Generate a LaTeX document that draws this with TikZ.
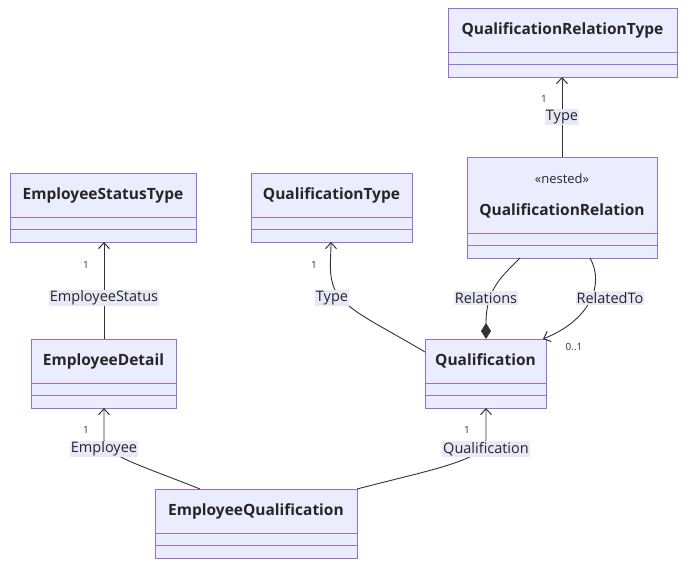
\documentclass[tikz,border=0pt]{standalone}
\usepackage{fontspec}
\setmainfont{Open Sans}
\usetikzlibrary{arrows.meta}
\definecolor{boxfill}{HTML}{ECECFF}
\definecolor{boxline}{HTML}{9370DB}
\definecolor{lblbg}{HTML}{E8E8F8}
\definecolor{edge}{HTML}{333333}
\tikzset{
  cls/.style={draw=boxline,fill=boxfill,line width=0.8pt},
  sep/.style={draw=boxline,line width=0.8pt},
  ttl/.style={font=\fontsize{15.5}{18}\selectfont\bfseries,text=black!85},
  lbl/.style={fill=lblbg,font=\fontsize{14.5}{17}\selectfont,text=black!85,inner sep=1pt},
  mult/.style={font=\fontsize{10}{12}\selectfont,text=black!80},
  conn/.style={draw=edge,line width=0.9pt},
  barb/.style={-{Straight Barb[length=6pt,width=11pt,line width=1pt]}},
}
\newcommand{\umlbox}[6]{% name, x1,y1,x2,y2, title y
  \fill[cls] (#2,#3) rectangle (#4,#5);
  \draw[sep] (#2,#5-25) -- (#4,#5-25);
  \draw[sep] (#2,#5-12.5) -- (#4,#5-12.5);
  \coordinate (#1-nw) at (#2,#3);
}
\begin{document}
\begin{tikzpicture}[x=1pt,y=-1pt]
\useasboundingbox[fill=white] (0,0) rectangle (686,568);
\umlbox{qrt}{448}{8}{677}{77}{29}
\node[ttl] (qrtT) at (562.5,30) {QualificationRelationType};
\umlbox{est}{10}{173}{196}{242}{195}
\node[ttl] (estT) at (103,195) {EmployeeStatusType};
\umlbox{qt}{251}{173}{412}{242}{195}
\node[ttl] (qtT) at (331.5,195) {QualificationType};
\umlbox{qr}{467}{157}{657}{258}{210}
\node[font=\fontsize{13}{15}\selectfont,text=black!85] (qrS) at (562,179) {«nested»};
\node[ttl] (qrT) at (562,211) {QualificationRelation};
\umlbox{ed}{31}{339}{176}{408}{361}
\node[ttl] (edT) at (103.5,361) {EmployeeDetail};
\umlbox{q}{425}{339}{546}{408}{361}
\node[ttl] (qT) at (485.5,361) {Qualification};
\umlbox{eq}{155}{489}{357}{558}{511}
\node[ttl] (eqT) at (256,511) {EmployeeQualification};

\coordinate (qrtB) at (562,77);
\coordinate (qrTop) at (562,157);
\coordinate (estB) at (104,242);
\coordinate (edTop) at (104,339);
\coordinate (qtB) at (331,242);
\coordinate (qL) at (425,352);
\coordinate (qrB1) at (520,258);
\coordinate (qTop) at (486,339);
\coordinate (qrB2) at (590,258);
\coordinate (qTR) at (543,339);
\coordinate (edB) at (104,408);
\coordinate (eqT1) at (200,489);
\coordinate (eqT2) at (357,489);
\coordinate (qB) at (486,408);

\draw[conn,barb] (qrTop) -- (qrtB);
\draw[conn,barb] (edTop) -- (estB);
\draw[conn,barb] (qL) .. controls (380,325) and (345,310) .. (335,290) .. controls (328,275) and (331,260) .. (qtB);
\draw[conn,-{Diamond[length=16pt,width=10pt]}] (qrB1) .. controls (500,278) and (486,290) .. (qTop);
\draw[conn,barb] (qrB2) .. controls (605,285) and (590,320) .. (qTR);
\draw[conn,barb] (eqT1) .. controls (140,465) and (104,455) .. (104,440) -- (edB);
\draw[conn,barb] (eqT2) .. controls (430,470) and (486,460) .. (486,440) -- (qB);

\node[lbl] (l1) at (562,117) {Type};
\node[lbl] (l2) at (104,298) {EmployeeStatus};
\node[lbl] (l3) at (332,298) {Type};
\node[lbl] (l4) at (486,298) {Relations};
\node[lbl] (l5) at (610,298) {RelatedTo};
\node[lbl] (l6) at (104,449) {Employee};
\node[lbl] (l7) at (486,449) {Qualification};

\node[mult] (m1) at (544,99) {1};
\node[mult] (m2) at (86,265) {1};
\node[mult] (m3) at (314,265) {1};
\node[mult] (m4) at (574,347) {0..1};
\node[mult] (m5) at (86,430) {1};
\node[mult] (m6) at (467,430) {1};
\end{tikzpicture}
\end{document}
